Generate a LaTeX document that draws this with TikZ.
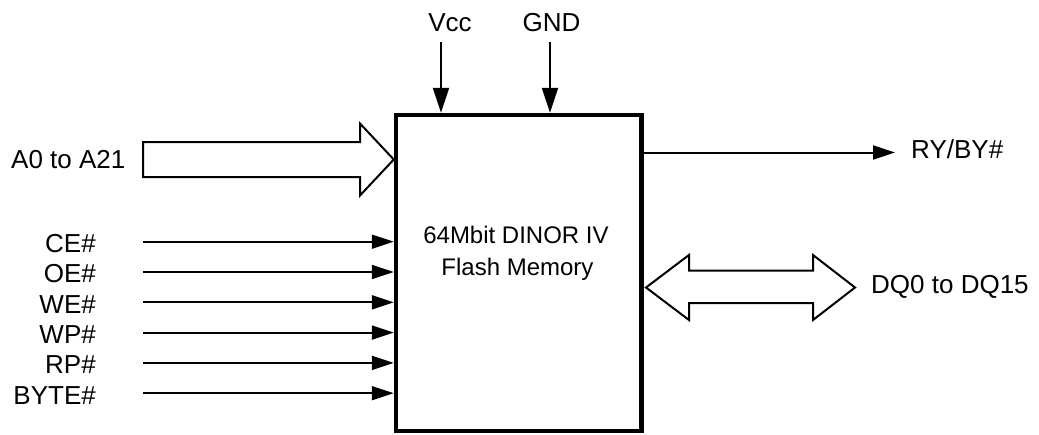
\documentclass[tikz,border=0pt]{standalone}
\usepackage{fontspec}
\setmainfont{Liberation Sans}
\usetikzlibrary{arrows.meta,calc}
\begin{document}
\begin{tikzpicture}[x=1pt,y=-1pt,
  lbl/.style={inner sep=0pt, font=\fontsize{26}{30}\selectfont},
  boxtext/.style={inner sep=0pt, font=\fontsize{24}{30}\selectfont},
  sig/.style={line width=2pt, -{Triangle[length=22pt,width=14pt]}},
  pwr/.style={line width=2pt, -{Triangle[length=25pt,width=16pt]}},
  bus/.style={line width=2pt, line join=miter, fill=white}]
\useasboundingbox (0,0) rectangle (1039,434);
% chip
\node[draw, line width=4.5pt, minimum width=245.5pt, minimum height=316pt, inner sep=0pt] (chip) at (518.75,273) {};
\node[boxtext, anchor=base] (t1) at (516,243) {64Mbit DINOR IV};
\node[boxtext, anchor=base] (t2) at (517.5,275) {Flash Memory};
% power
\node[lbl, anchor=base] (vcc) at (450,31) {Vcc};
\node[lbl, anchor=base] (gnd) at (551.5,31) {GND};
\coordinate (vccs) at (441,42);
\coordinate (gnds) at (550,42);
\draw[pwr] (vccs) -- (vccs |- chip.north);
\draw[pwr] (gnds) -- (gnds |- chip.north);
% address bus
\node[lbl, anchor=base west] (addr) at (11,168) {A0 to A21};
\coordinate (as) at (143,159.5);
\coordinate (ae) at (chip.west |- as);
\draw[bus] ($(as)+(0,-17.5)$) -- (360,142) -- (360,123.5) -- (ae) -- (360,195.5) -- (360,177) -- ($(as)+(0,17.5)$) -- cycle;
% control signals
\foreach \name/\y [count=\i] in {CE\#/241.7, OE\#/272, WE\#/302.3, WP\#/332.6, RP\#/362.9, BYTE\#/393.2}{
  \node[lbl, anchor=base east] (lab\i) at (96,\y+10.8) {\name};
  \coordinate (src\i) at (143,\y);
  \draw[sig] (src\i) -- (src\i -| chip.west);
}
% ready/busy
\node[lbl, anchor=base west] (ry) at (911,158) {RY/BY\#};
\coordinate (rye) at (895,152.5);
\draw[sig] (chip.east |- rye) -- (rye);
% data bus
\node[lbl, anchor=base west] (dq) at (871,293) {DQ0 to DQ15};
\coordinate (dl) at (646,287.5);
\coordinate (dr) at (855,287.5);
\draw[bus] (dl) -- (689,255) -- (689,270.5) -- (813,270.5) -- (813,255) -- (dr) -- (813,320) -- (813,303) -- (689,303) -- (689,320) -- cycle;
\end{tikzpicture}
\end{document}
